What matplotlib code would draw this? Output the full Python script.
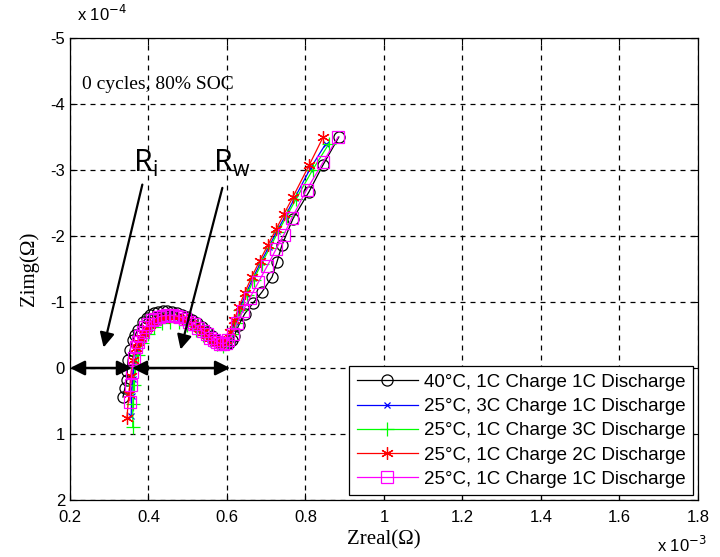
import numpy as np
import matplotlib
matplotlib.use('Agg')
import matplotlib.pyplot as plt

# Zreal in 1e-3 ohm, Zimg in 1e-4 ohm
x_40c_1c1c = [0.335, 0.340, 0.345, 0.346, 0.348, 0.353, 0.360, 0.366, 0.373, 0.386, 0.395, 0.404,
              0.414, 0.424, 0.436, 0.447, 0.460, 0.473, 0.486, 0.498, 0.511, 0.524, 0.537, 0.549,
              0.561, 0.572, 0.582, 0.590, 0.598, 0.605, 0.612, 0.618, 0.630, 0.645, 0.666, 0.689,
              0.715, 0.727, 0.740, 0.768, 0.809, 0.845, 0.885]
y_40c_1c1c = [0.44, 0.30, 0.18, 0.05, -0.12, -0.27, -0.42, -0.50, -0.58, -0.70, -0.76, -0.80,
              -0.83, -0.85, -0.86, -0.86, -0.85, -0.83, -0.80, -0.77, -0.73, -0.68, -0.62, -0.55,
              -0.48, -0.42, -0.38, -0.36, -0.36, -0.38, -0.42, -0.48, -0.65, -0.82, -0.98, -1.15,
              -1.38, -1.60, -1.86, -2.26, -2.67, -3.08, -3.50]

x_25c_3c1c = [0.356, 0.357, 0.360, 0.364, 0.371, 0.382, 0.396, 0.413, 0.432, 0.453, 0.475, 0.497,
              0.518, 0.538, 0.556, 0.572, 0.587, 0.599, 0.610, 0.620, 0.632, 0.648, 0.666, 0.686,
              0.707, 0.728, 0.750, 0.773, 0.812, 0.852]
y_25c_3c1c = [0.72, 0.42, 0.16, -0.06, -0.25, -0.42, -0.56, -0.66, -0.72, -0.74, -0.73, -0.69,
              -0.61, -0.52, -0.44, -0.38, -0.36, -0.41, -0.53, -0.70, -0.90, -1.12, -1.36, -1.60,
              -1.84, -2.08, -2.32, -2.58, -3.02, -3.40]

x_25c_1c3c = [0.360, 0.360, 0.362, 0.366, 0.373, 0.384, 0.398, 0.415, 0.434, 0.455, 0.477, 0.499,
              0.520, 0.540, 0.558, 0.574, 0.589, 0.601, 0.612, 0.622, 0.634, 0.650, 0.668, 0.688,
              0.709, 0.730, 0.752, 0.776, 0.818, 0.860]
y_25c_1c3c = [0.90, 0.55, 0.25, 0.00, -0.20, -0.38, -0.52, -0.62, -0.68, -0.70, -0.69, -0.65,
              -0.58, -0.50, -0.42, -0.36, -0.34, -0.40, -0.52, -0.68, -0.88, -1.10, -1.34, -1.58,
              -1.82, -2.06, -2.30, -2.56, -3.00, -3.40]

x_25c_1c2c = [0.345, 0.350, 0.355, 0.360, 0.368, 0.374, 0.380, 0.387, 0.395, 0.403, 0.412, 0.422,
              0.432, 0.442, 0.453, 0.464, 0.475, 0.486, 0.497, 0.508, 0.518, 0.528, 0.538, 0.547,
              0.556, 0.564, 0.572, 0.579, 0.586, 0.592, 0.598, 0.608, 0.618, 0.630, 0.645, 0.663,
              0.683, 0.704, 0.725, 0.745, 0.768, 0.810, 0.845]
y_25c_1c2c = [0.76, 0.40, 0.12, -0.12, -0.30, -0.39, -0.46, -0.53, -0.60, -0.65, -0.70, -0.73,
              -0.76, -0.77, -0.78, -0.78, -0.77, -0.75, -0.72, -0.68, -0.64, -0.60, -0.55, -0.50,
              -0.46, -0.43, -0.40, -0.39, -0.38, -0.39, -0.43, -0.55, -0.72, -0.92, -1.14, -1.38,
              -1.62, -1.86, -2.10, -2.33, -2.59, -3.08, -3.50]

x_25c_1c1c = [0.353, 0.355, 0.358, 0.362, 0.368, 0.373, 0.378, 0.385, 0.392, 0.400, 0.408, 0.417,
              0.427, 0.437, 0.448, 0.459, 0.470, 0.481, 0.493, 0.504, 0.516, 0.527, 0.538, 0.548,
              0.558, 0.567, 0.575, 0.583, 0.590, 0.597, 0.603, 0.615, 0.626, 0.640, 0.658, 0.680,
              0.703, 0.725, 0.745, 0.765, 0.803, 0.845, 0.883]
y_25c_1c1c = [0.52, 0.26, 0.06, -0.15, -0.32, -0.40, -0.48, -0.55, -0.62, -0.67, -0.72, -0.75,
              -0.78, -0.79, -0.80, -0.80, -0.79, -0.77, -0.74, -0.70, -0.66, -0.61, -0.56, -0.51,
              -0.46, -0.42, -0.39, -0.37, -0.37, -0.38, -0.42, -0.52, -0.68, -0.86, -1.06, -1.30,
              -1.55, -1.80, -2.02, -2.27, -2.70, -3.12, -3.50]

labels = ['40°C, 1C Charge 1C Discharge',
          '25°C, 3C Charge 1C Discharge',
          '25°C, 1C Charge 3C Discharge',
          '25°C, 1C Charge 2C Discharge',
          '25°C, 1C Charge 1C Discharge']

x_ticks = [0.2, 0.4, 0.6, 0.8, 1, 1.2, 1.4, 1.6, 1.8]
x_tick_labels = ['0.2', '0.4', '0.6', '0.8', '1', '1.2', '1.4', '1.6', '1.8']
y_ticks = [-5, -4, -3, -2, -1, 0, 1, 2]

sans = 'Liberation Sans'
serif = 'Liberation Serif'

fig = plt.figure(figsize=(7.2, 5.57), dpi=100)
ax = fig.add_axes([0.0972, 0.1023, 0.8722, 0.8295])

series = [
    (x_40c_1c1c, y_40c_1c1c, 'k', 'o', dict(mfc='none', ms=8)),
    (x_25c_3c1c, y_25c_3c1c, '#0000ff', 'x', dict(ms=5)),
    (x_25c_1c3c, y_25c_1c3c, '#00ff00', '+', dict(ms=10)),
    (x_25c_1c2c, y_25c_1c2c, '#ff0000', (6, 2, 0), dict(ms=9)),
    (x_25c_1c1c, y_25c_1c1c, '#ff00ff', 's', dict(mfc='none', ms=8)),
]
for (xs, ys, c, m, kw), lab in zip(series, labels):
    ax.plot(xs, ys, color=c, marker=m, lw=0.9, mew=0.9, label=lab, **kw)

ax.set_xlim(0.2, 1.8)
ax.set_ylim(2, -5)
ax.set_xticks(x_ticks)
ax.set_xticklabels(x_tick_labels, fontfamily=sans, fontsize=12)
ax.set_yticks(y_ticks)
ax.set_yticklabels([str(t) for t in y_ticks], fontfamily=sans, fontsize=12)
ax.tick_params(direction='in', length=5, width=0.8, top=True, right=True)
ax.tick_params(axis='x', pad=7)
ax.grid(True, color='k', linestyle=(0, (4, 4)), lw=0.9)
for s in ax.spines.values():
    s.set_linewidth(0.9)

ax.set_xlabel('Zreal(Ω)', fontfamily=serif, fontsize=15, labelpad=4)
ax.set_ylabel('Zimg(Ω)', fontfamily=serif, fontsize=15, labelpad=8)

fig.text(0.107, 0.975, r'x 10$^{-4}$', fontfamily=sans, fontsize=12, va='center')
fig.text(0.912, 0.022, r'x 10$^{-3}$', fontfamily=sans, fontsize=12, va='center')

ax.text(0.23, -4.3, '0 cycles, 80% SOC', fontfamily=serif, fontsize=14, va='center')

# R_i and R_w annotations
ax.text(0.36, -3.1, r'R$_\mathregular{i}$', fontfamily=['Open Sans', 'DejaVu Sans'], fontsize=22,
        va='center', ha='left')
ax.text(0.565, -3.1, r'R$_\mathregular{w}$', fontfamily=['Open Sans', 'DejaVu Sans'], fontsize=22,
        va='center', ha='left')
arrow = dict(arrowstyle='-|>', color='k', lw=1.6, mutation_scale=22)
ax.annotate('', xy=(0.284, -0.27), xytext=(0.386, -2.82), arrowprops=arrow)
ax.annotate('', xy=(0.480, -0.24), xytext=(0.590, -2.77), arrowprops=arrow)
darrow = dict(arrowstyle='<|-|>', color='k', lw=1.8, mutation_scale=22, shrinkA=0, shrinkB=0)
ax.annotate('', xy=(0.2, 0.0), xytext=(0.358, 0.0), arrowprops=darrow)
ax.annotate('', xy=(0.358, 0.0), xytext=(0.608, 0.0), arrowprops=darrow)

leg = ax.legend(loc='lower right', prop={'family': sans, 'size': 13.5}, frameon=True,
                fancybox=False, edgecolor='k', framealpha=1, handlelength=3.3,
                borderaxespad=0.25, labelspacing=0.38, borderpad=0.4, handletextpad=0.3)
leg.get_frame().set_linewidth(0.9)

fig.savefig('out.png', dpi=100)
